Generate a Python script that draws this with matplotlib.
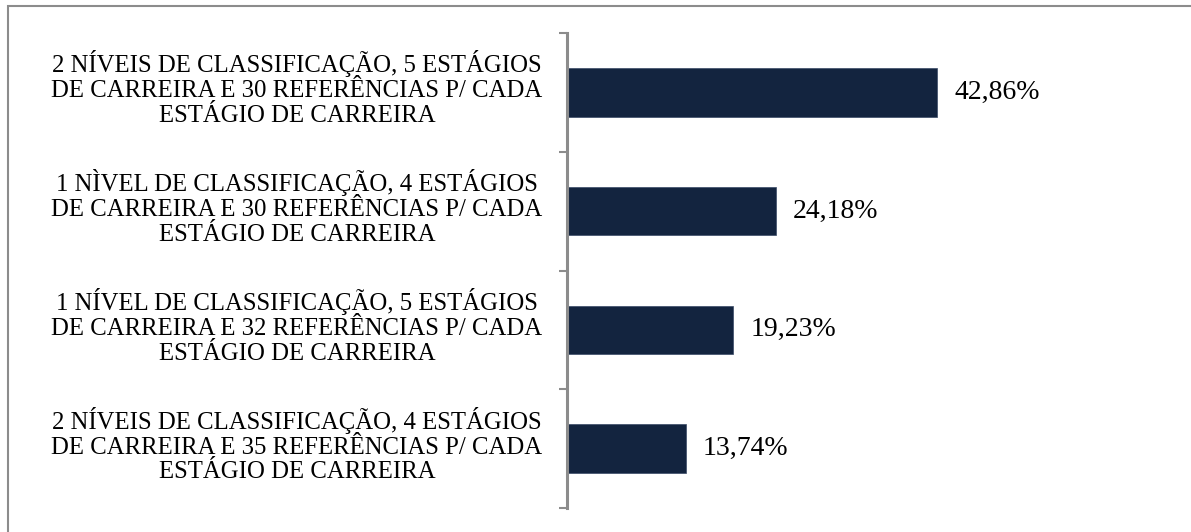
import matplotlib.pyplot as plt
from matplotlib.patches import Rectangle
from matplotlib.transforms import blended_transform_factory

categories = [
    "2 NÍVEIS DE CLASSIFICAÇÃO, 5 ESTÁGIOS\nDE CARREIRA E 30 REFERÊNCIAS P/ CADA\nESTÁGIO DE CARREIRA",
    "1 NÌVEL DE CLASSIFICAÇÃO, 4 ESTÁGIOS\nDE CARREIRA E 30 REFERÊNCIAS P/ CADA\nESTÁGIO DE CARREIRA",
    "1 NÍVEL DE CLASSIFICAÇÃO, 5 ESTÁGIOS\nDE CARREIRA E 32 REFERÊNCIAS P/ CADA\nESTÁGIO DE CARREIRA",
    "2 NÍVEIS DE CLASSIFICAÇÃO, 4 ESTÁGIOS\nDE CARREIRA E 35 REFERÊNCIAS P/ CADA\nESTÁGIO DE CARREIRA",
]
values = [42.86, 24.18, 19.23, 13.74]
value_labels = ["42,86%", "24,18%", "19,23%", "13,74%"]

plt.rcParams['font.family'] = ['Liberation Serif', 'DejaVu Serif']

W, H = 1191, 532
fig = plt.figure(figsize=(W / 100, H / 100), dpi=100)
ax = fig.add_axes([567 / W, (H - 508) / H, (999 - 567) / W, (508 - 33) / H])

bar_color = '#13243f'
pos = list(range(len(values)))
ax.barh(pos, values, height=0.41, color=bar_color, edgecolor='#3a4a66', linewidth=0.5)
ax.set_xlim(0, 50)
ax.set_ylim(3.5, -0.5)

# tick marks at category boundaries
ax.set_yticks([-0.5, 0.5, 1.5, 2.5, 3.5])
ax.set_yticklabels([])
ax.tick_params(axis='y', direction='out', length=6, width=1.5, color='#8c8c8c')
ax.set_xticks([])
for s in ['top', 'right', 'bottom']:
    ax.spines[s].set_visible(False)
ax.spines['left'].set_color('#8c8c8c')
ax.spines['left'].set_linewidth(2.2)

trans = blended_transform_factory(fig.transFigure, ax.transData)
for p, lab in zip(pos, categories):
    ax.text(297 / W, p - 0.03, lab, transform=trans, ha='center', va='center',
            fontsize=17.8, linespacing=1.17, multialignment='center', color='black')

for p, v, lab in zip(pos, values, value_labels):
    ax.text(v + 2.0, p, lab, ha='left', va='center', fontsize=20, color='black')

# outer frame
fig.patches.append(Rectangle((8 / W, -0.05), 1.1, (H - 6) / H + 0.05,
                             transform=fig.transFigure, fill=False,
                             edgecolor='#8c8c8c', linewidth=1.5))

fig.savefig('out.png', dpi=100)
